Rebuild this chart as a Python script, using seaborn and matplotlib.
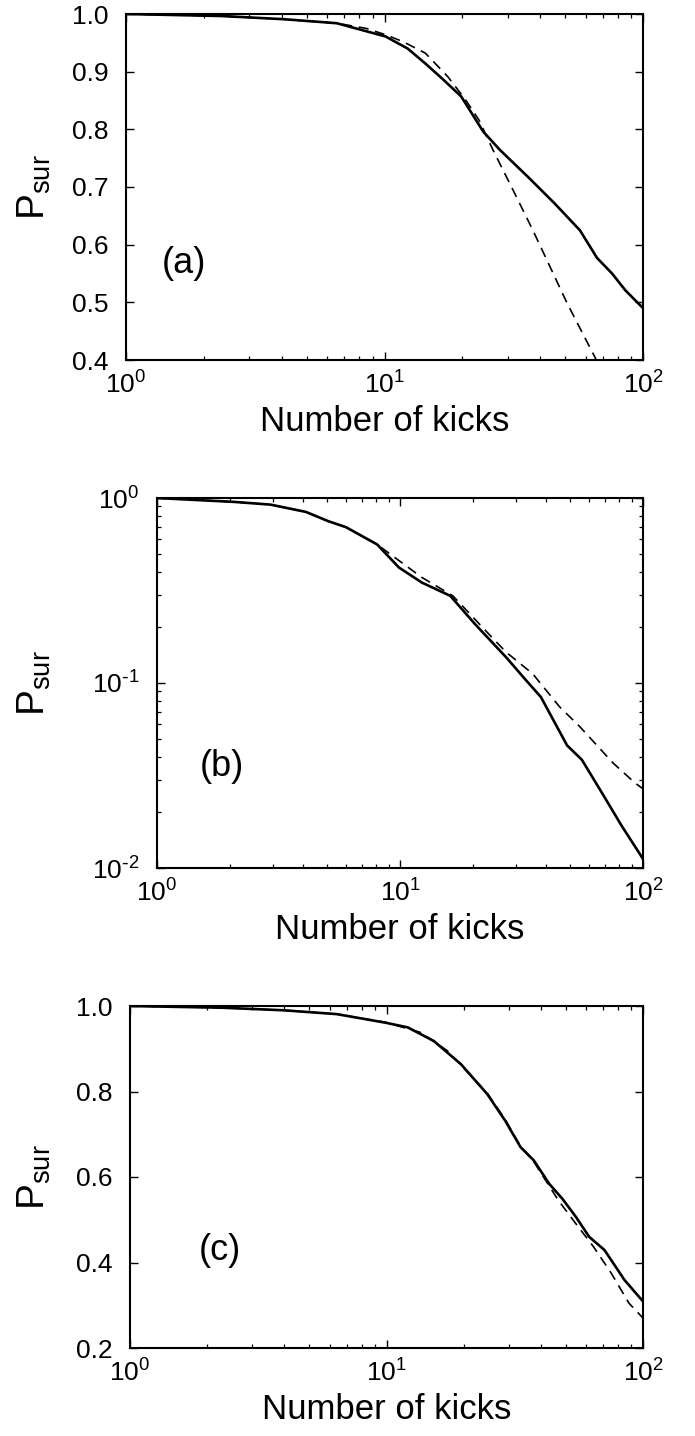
import numpy as np
import pandas as pd
import matplotlib
matplotlib.use("Agg")
import matplotlib.pyplot as plt
from matplotlib.ticker import (LogLocator, FormatStrFormatter, MultipleLocator,
                               NullFormatter, FuncFormatter)
import seaborn as sns

# ---- survival probability vs number of kicks ----
# panel (a)
a_solid_n = [1, 2.34, 4.07, 6.54, 10.1, 12.3, 14.4, 16.9, 19.8, 24.1, 28.0, 35.8, 45.4, 57.0, 66.4, 75.9, 85.4, 100]
a_solid_p = [1.0, 0.9965, 0.991, 0.984, 0.961, 0.940, 0.914, 0.886, 0.857, 0.796, 0.764, 0.718, 0.672, 0.625, 0.577, 0.550, 0.521, 0.490]
a_dash_n = [1, 2.34, 4.07, 6.54, 8.5, 10.1, 11.8, 14.4, 17.6, 20.6, 23.2, 26.3, 31.4, 37.5, 50.8, 66.0]
a_dash_p = [1.0, 0.9965, 0.991, 0.984, 0.975, 0.964, 0.952, 0.932, 0.891, 0.851, 0.816, 0.764, 0.695, 0.625, 0.499, 0.400]

# panel (b)
b_solid_n = [1, 2.09, 2.93, 4.1, 5.06, 6.0, 8.05, 9.9, 12.3, 16.1, 20.3, 27.3, 33.0, 38.0, 48.7, 56.0, 69.0, 81.7, 100]
b_solid_p = [1.0, 0.952, 0.921, 0.841, 0.75, 0.695, 0.561, 0.421, 0.349, 0.296, 0.209, 0.138, 0.1035, 0.084, 0.046, 0.0385, 0.0245, 0.0169, 0.0112]
b_dash_n = [1, 2.09, 2.93, 4.1, 5.06, 6.0, 8.05, 12.3, 16.5, 23.1, 27.3, 35.2, 45.3, 55.0, 75.2, 92.7, 100]
b_dash_p = [1.0, 0.952, 0.921, 0.841, 0.75, 0.695, 0.561, 0.372, 0.296, 0.185, 0.147, 0.112, 0.0745, 0.058, 0.037, 0.0288, 0.0268]

# panel (c)
c_solid_n = [1, 2.28, 3.97, 6.4, 9.9, 12.1, 15.3, 19.5, 24.7, 29.0, 33.3, 37.5, 43.1, 48.5, 54.7, 61.7, 70.8, 84.7, 100]
c_solid_p = [1.0, 0.996, 0.990, 0.981, 0.961, 0.950, 0.918, 0.864, 0.794, 0.732, 0.670, 0.639, 0.584, 0.549, 0.507, 0.460, 0.429, 0.359, 0.309]
c_dash_n = [1, 2.28, 3.97, 6.4, 9.9, 13.6, 17.3, 24.7, 29.0, 33.3, 37.5, 46.7, 54.7, 64.1, 75.2, 88.1, 100]
c_dash_p = [1.0, 0.996, 0.990, 0.981, 0.962, 0.938, 0.895, 0.796, 0.735, 0.672, 0.636, 0.546, 0.491, 0.437, 0.375, 0.305, 0.270]

panel_tags = ["(a)", "(b)", "(c)"]
x_label = "Number of kicks"
y_label = r"$\mathdefault{P_{sur}}$"

sns.set_style("ticks")
plt.rcParams["font.family"] = ["Liberation Sans", "DejaVu Sans"]
plt.rcParams["mathtext.default"] = "regular"
plt.rcParams["axes.unicode_minus"] = False
plt.rcParams["lines.dashed_pattern"] = [6.0, 4.0]


def decade_label(v, pos):
    e = int(round(np.log10(v)))
    if e < 0:
        return r"$\mathdefault{10^{\text{-}%d}}$" % (-e)
    return r"$\mathdefault{10^{%d}}$" % e


fig = plt.figure(figsize=(6.95, 14.36), dpi=100)

W, H = 695.0, 1436.0
def box(l, r, t, b):
    return [l / W, 1 - b / H, (r - l) / W, (b - t) / H]

ax_a = fig.add_axes(box(126, 643, 14, 360))
ax_b = fig.add_axes(box(157, 643, 498, 868))
ax_c = fig.add_axes(box(130, 643, 1006, 1348))

series = [
    (ax_a, a_solid_n, a_solid_p, a_dash_n, a_dash_p),
    (ax_b, b_solid_n, b_solid_p, b_dash_n, b_dash_p),
    (ax_c, c_solid_n, c_solid_p, c_dash_n, c_dash_p),
]

for ax, sn, sp, dn, dp in series:
    solid = pd.DataFrame({"n": sn, "p": sp})
    dashed = pd.DataFrame({"n": dn, "p": dp})
    sns.lineplot(data=solid, x="n", y="p", ax=ax, color="black", lw=1.9)
    sns.lineplot(data=dashed, x="n", y="p", ax=ax, color="black", lw=1.2, linestyle="--")
    ax.set_xscale("log")
    ax.set_xlim(1, 100)
    ax.xaxis.set_major_locator(LogLocator(base=10, numticks=10))
    ax.xaxis.set_major_formatter(FuncFormatter(decade_label))
    ax.xaxis.set_minor_locator(LogLocator(base=10, subs=np.arange(2, 10), numticks=20))
    ax.xaxis.set_minor_formatter(NullFormatter())

# panel-specific y axes
ax_a.set_ylim(0.4, 1.0)
ax_a.yaxis.set_major_locator(MultipleLocator(0.1))
ax_a.yaxis.set_major_formatter(FormatStrFormatter("%.1f"))

ax_b.set_yscale("log")
ax_b.set_ylim(0.01, 1.0)
ax_b.yaxis.set_major_locator(LogLocator(base=10, numticks=10))
ax_b.yaxis.set_major_formatter(FuncFormatter(decade_label))
ax_b.yaxis.set_minor_locator(LogLocator(base=10, subs=np.arange(2, 10), numticks=20))
ax_b.yaxis.set_minor_formatter(NullFormatter())

ax_c.set_ylim(0.2, 1.0)
ax_c.yaxis.set_major_locator(MultipleLocator(0.2))
ax_c.yaxis.set_major_formatter(FormatStrFormatter("%.1f"))

ylab_x = [-0.141, -0.214, -0.150]
tag_pos = [(0.112, 0.28), (0.133, 0.275), (0.176, 0.286)]

for ax, tag, yx, (tx, ty) in zip([ax_a, ax_b, ax_c], panel_tags, ylab_x, tag_pos):
    for s in ax.spines.values():
        s.set_visible(True)
        s.set_linewidth(1.5)
        s.set_color("black")
    ax.tick_params(which="both", direction="in", top=True, right=True,
                   colors="black", labelsize=19)
    ax.tick_params(which="major", length=6, width=1.0)
    ax.tick_params(which="minor", length=3, width=0.9)
    ax.tick_params(axis="x", which="major", pad=8.0)
    ax.tick_params(axis="y", which="major", pad=12.5)
    ax.set_xlabel(x_label, fontsize=25, labelpad=5, color="black")
    ax.set_ylabel(y_label, fontsize=28, color="black")
    ax.yaxis.set_label_coords(yx, 0.5)
    ax.text(tx, ty, tag, transform=ax.transAxes, fontsize=26,
            ha="center", va="center", color="black")
    ax.grid(False)

fig.savefig("out.png", dpi=100, facecolor="white")
